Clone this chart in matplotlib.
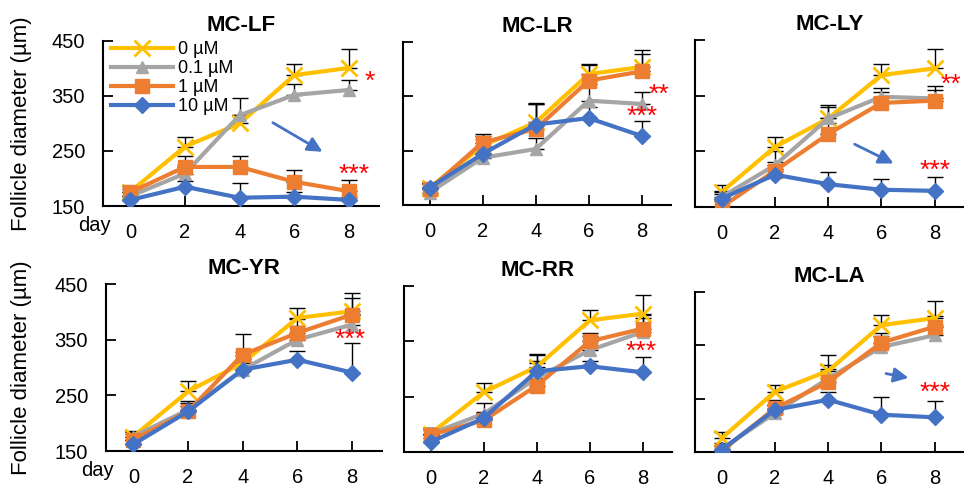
import numpy as np
import matplotlib.pyplot as plt

plt.rcParams['font.family'] = ['Liberation Sans', 'DejaVu Sans']

days = [0, 2, 4, 6, 8]
doses = ['0 µM', '0.1 µM', '1 µM', '10 µM']
titles = ['MC-LF', 'MC-LR', 'MC-LY', 'MC-YR', 'MC-RR', 'MC-LA']

# mean follicle diameter per panel, one list per dose (0, 0.1, 1, 10 µM)
lf_mean = [[176, 258, 300, 388, 401], [168, 209, 315, 352, 361],
           [175, 221, 221, 194, 177], [161, 185, 165, 167, 161]]
lf_err = [[10, 18, 15, 20, 34], [12, 15, 32, 20, 18],
          [12, 20, 20, 22, 20], [8, 10, 26, 8, 6]]
lr_mean = [[182, 259, 302, 391, 404], [173, 237, 253, 342, 336],
           [179, 265, 290, 379, 396], [182, 244, 298, 310, 277]]
lr_err = [[8, 18, 35, 19, 31], [10, 15, 20, 30, 22],
          [10, 15, 45, 28, 32], [8, 10, 38, 20, 28]]
ly_mean = [[177, 258, 309, 387, 399], [168, 225, 309, 348, 345],
           [150, 215, 281, 337, 341], [165, 208, 191, 181, 179]]
ly_err = [[12, 18, 25, 20, 34], [10, 25, 20, 15, 22],
          [10, 15, 20, 20, 20], [8, 10, 22, 20, 24]]
yr_mean = [[176, 257, 308, 389, 401], [176, 224, 296, 350, 377],
           [170, 221, 323, 362, 395], [162, 221, 296, 314, 291]]
yr_err = [[10, 18, 20, 17, 33], [8, 15, 20, 25, 20],
          [10, 15, 38, 25, 30], [8, 10, 15, 15, 53]]
rr_mean = [[183, 258, 304, 388, 400], [183, 219, 284, 334, 367],
           [181, 207, 270, 350, 373], [168, 211, 296, 305, 294]]
rr_err = [[10, 17, 22, 18, 33], [10, 20, 30, 25, 25],
          [8, 15, 40, 15, 25], [8, 10, 32, 10, 28]]
la_mean = [[176, 263, 302, 388, 401], [156, 223, 288, 347, 369],
           [152, 232, 281, 355, 385], [154, 229, 248, 220, 215]]
la_err = [[12, 13, 30, 18, 33], [10, 15, 25, 20, 20],
          [10, 15, 25, 18, 20], [8, 10, 15, 34, 30]]

means = [lf_mean, lr_mean, ly_mean, yr_mean, rr_mean, la_mean]
errs = [lf_err, lr_err, ly_err, yr_err, rr_err, la_err]

# significance marks: (panel, text, x, y)
stars = [(0, '*', 8.75, 375), (0, '***', 8.2, 207),
         (1, '**', 8.65, 353), (1, '***', 8.0, 313),
         (2, '**', 8.6, 370), (2, '***', 8.0, 215),
         (3, '***', 7.95, 350), (4, '***', 7.95, 331), (5, '***', 8.0, 260)]
# blue arrows: (panel, x0, y0, x1, y1)
arrows = [(0, 5.13, 304, 7.12, 246), (2, 4.9, 265, 6.55, 226),
          (5, 6.07, 298, 7.12, 288)]

colors = ['#FFC000', '#A5A5A5', '#ED7D31', '#4472C4']
markers = ['x', '^', 's', 'D']
msizes = [11, 9, 10, 8]

# axes boxes in pixels: left, top, right, bottom
boxes = [(103, 41, 379, 206), (403, 42, 671, 205), (695, 40, 964, 207),
         (106, 284, 382, 451), (404, 286, 672, 452), (695, 292, 964, 452)]

W, H = 964, 490
fig = plt.figure(figsize=(W / 100, H / 100), dpi=100)

axes = []
for i, (l, t, r, b) in enumerate(boxes):
    ax = fig.add_axes([l / W, 1 - b / H, (r - l) / W, (b - t) / H])
    axes.append(ax)
    for k in range(4):
        ax.errorbar(days, means[i][k], yerr=[np.zeros(5), errs[i][k]],
                    fmt='none', ecolor='black', elinewidth=1, capsize=6,
                    capthick=1, zorder=1)
    for k in range(4):
        mk = markers[k]
        ax.plot(days, means[i][k], color=colors[k], lw=3, marker=mk,
                ms=msizes[k], mew=2 if mk == 'x' else 1,
                mec=colors[k], label=doses[k], zorder=2 + k)
    ax.set_xlim(-1, 9.1)
    ax.set_ylim(150, 450)
    ax.set_xticks(days)
    ax.set_yticks([150, 250, 350, 450])
    ax.tick_params(direction='in', length=7, width=1.3, labelsize=14.5)
    ax.tick_params(axis='x', pad=12)
    ax.tick_params(axis='y', pad=13)
    for s in ['top', 'right']:
        ax.spines[s].set_visible(False)
    for s in ['left', 'bottom']:
        ax.spines[s].set_linewidth(1.5)
    ax.set_title(titles[i], fontsize=16, fontweight='bold', pad=7)
    if i % 3 == 0:
        ax.annotate('day', xy=(-1.3, 0), xycoords=('data', 'axes fraction'),
                    xytext=(0, -7), textcoords='offset points',
                    ha='center', va='top', fontsize=14.5, annotation_clip=False)
        cy = 1 - (t + b) / 2 / H
        fig.text(22 / W, cy, 'Follicle diameter (µm)', rotation=90,
                 fontsize=16, ha='center', va='center')
    else:
        ax.set_yticklabels([])

for p, txt, x, y in stars:
    axes[p].text(x, y, txt, color='red', fontsize=19, ha='center',
                 va='center', clip_on=False, zorder=10)

for p, x0, y0, x1, y1 in arrows:
    axes[p].annotate('', xy=(x1, y1), xytext=(x0, y0),
                     arrowprops=dict(arrowstyle='-|>', color='#4472C4',
                                     lw=2, mutation_scale=22))

axes[0].legend(loc='upper left', bbox_to_anchor=(0.03, 1.0), frameon=False,
               fontsize=13, handlelength=3.4, handletextpad=0.3,
               labelspacing=0.12, borderaxespad=0, borderpad=0)

fig.savefig('out.png', dpi=100)
